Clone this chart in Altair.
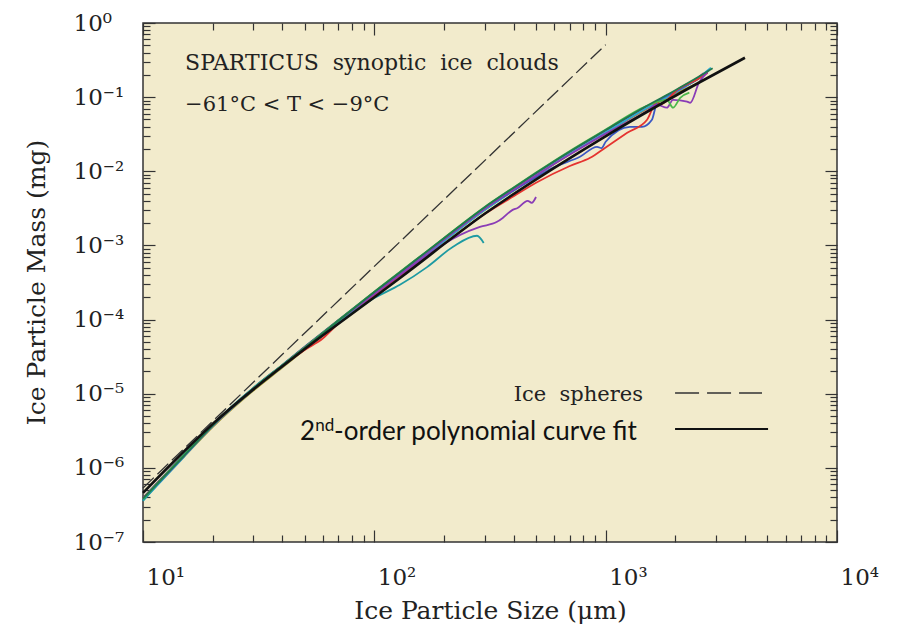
import altair as alt
import pandas as pd

# ---------------------------------------------------------------- ranges
SIZE_DOMAIN = [10, 10000]      # ice particle size, µm
MASS_DOMAIN = [1e-7, 1]        # ice particle mass, mg

# ------------------------------------------------------ reference curves
sphere_size = [10, 1000]
sphere_mass = [5.35e-7, 0.51]

fit_size = [10, 20, 50, 100, 130, 300, 950, 2560, 4000]
fit_mass = [4.6e-7, 3.9e-6, 4.0e-5, 2.0e-4, 3.7e-4, 2.67e-3, 0.027, 0.16, 0.34]

# ------------------------------------- SPARTICUS mass-size curves (flights)
GRID = [10, 15, 20, 30, 40, 50, 70, 100, 150, 200, 300, 400, 500, 700,
        1000, 1500, 2000, 2500]

olive_size = GRID
olive_mass = [3.75e-7, 1.4e-6, 3.55e-6, 1.1e-5, 2.25e-5, 3.95e-5, 9.0e-5, 2.15e-4,
              5.7e-4, 1.14e-3, 3.0e-3, 5.5e-3, 8.7e-3, 0.017, 0.033, 0.069, 0.112, 0.152]

navy_size = GRID + [2700]
navy_mass = [3.95e-7, 1.5e-6, 3.85e-6, 1.2e-5, 2.45e-5, 4.3e-5, 9.9e-5, 2.35e-4,
             6.2e-4, 1.24e-3, 3.2e-3, 5.85e-3, 9.3e-3, 0.0181, 0.0352, 0.0735, 0.118,
             0.175, 0.205]

magenta_size = GRID + [2650]
magenta_mass = [3.8e-7, 1.44e-6, 3.7e-6, 1.15e-5, 2.36e-5, 4.1e-5, 9.4e-5, 2.25e-4,
                5.9e-4, 1.18e-3, 3.05e-3, 5.6e-3, 8.9e-3, 0.0172, 0.0335, 0.071, 0.116,
                0.182, 0.21]

cyan_size = GRID + [2850]
cyan_mass = [3.6e-7, 1.4e-6, 3.65e-6, 1.14e-5, 2.33e-5, 4.05e-5, 9.2e-5, 2.17e-4,
             5.7e-4, 1.14e-3, 3.0e-3, 5.5e-3, 8.8e-3, 0.0172, 0.0335, 0.071, 0.116,
             0.18, 0.25]

blue_size = [10, 15, 20, 30, 40, 50, 70, 100, 150, 200, 300, 400, 500, 600, 774,
             918, 960, 1000, 1274, 1435, 1585, 1667, 2000, 2500, 2800]
blue_mass = [3.7e-7, 1.43e-6, 3.7e-6, 1.16e-5, 2.38e-5, 4.2e-5, 9.7e-5, 2.3e-4,
             6.1e-4, 1.22e-3, 3.15e-3, 5.5e-3, 8.3e-3, 0.0114, 0.0157, 0.0214, 0.0205,
             0.025, 0.0398, 0.0398, 0.0496, 0.084, 0.118, 0.18, 0.23]

red_size = [10, 15, 20, 30, 40, 50, 60, 70, 100, 150, 200, 300, 400, 500, 700, 857,
            1000, 1239, 1510, 1667, 1717, 2040, 2559, 2760]
red_mass = [3.9e-7, 1.46e-6, 3.75e-6, 1.18e-5, 2.38e-5, 3.9e-5, 5.6e-5, 8.9e-5,
            2.15e-4, 5.5e-4, 1.05e-3, 2.65e-3, 4.6e-3, 7.0e-3, 0.0118, 0.0152, 0.021,
            0.033, 0.0496, 0.0867, 0.0789, 0.126, 0.183, 0.214]

purple_size = [10, 15, 20, 30, 40, 50, 70, 100, 150, 200, 300, 400, 500, 700, 1000,
               1500, 1667, 1840, 1955, 2250, 2320, 2530, 2760]
purple_mass = [3.85e-7, 1.46e-6, 3.72e-6, 1.17e-5, 2.4e-5, 4.2e-5, 9.6e-5, 2.27e-4,
               5.95e-4, 1.19e-3, 3.1e-3, 5.65e-3, 8.8e-3, 0.0168, 0.0322, 0.064, 0.079,
               0.072, 0.092, 0.087, 0.084, 0.156, 0.22]

violet_size = [10, 15, 20, 30, 40, 50, 70, 100, 150, 200, 235, 286, 339, 359, 396,
               416, 460, 479, 500]
violet_mass = [3.8e-7, 1.45e-6, 3.7e-6, 1.16e-5, 2.37e-5, 4.1e-5, 9.4e-5, 2.2e-4,
               5.6e-4, 1.05e-3, 1.39e-3, 1.78e-3, 2.08e-3, 2.35e-3, 3.02e-3, 3.2e-3,
               4.0e-3, 3.76e-3, 4.5e-3]

teal_size = [10, 15, 20, 30, 40, 50, 70, 100, 129, 169, 219, 278, 297]
teal_mass = [3.6e-7, 1.48e-6, 3.85e-6, 1.2e-5, 2.42e-5, 4.15e-5, 9.1e-5, 1.95e-4,
             2.94e-4, 5.1e-4, 9.6e-4, 1.35e-3, 1.08e-3]

green_size = [10, 15, 20, 30, 40, 50, 70, 100, 150, 200, 300, 400, 500, 700, 1000,
              1500, 1840, 1955, 2100, 2300]
green_mass = [3.8e-7, 1.47e-6, 3.75e-6, 1.17e-5, 2.4e-5, 4.2e-5, 9.8e-5, 2.38e-4,
              6.3e-4, 1.26e-3, 3.3e-3, 6.05e-3, 9.6e-3, 0.0188, 0.0365, 0.076, 0.092,
              0.072, 0.098, 0.115]

forest_size = GRID + [2900]
forest_mass = [3.85e-7, 1.44e-6, 3.72e-6, 1.16e-5, 2.38e-5, 4.15e-5, 9.7e-5, 2.35e-4,
               6.25e-4, 1.25e-3, 3.28e-3, 6.0e-3, 9.5e-3, 0.0185, 0.036, 0.076, 0.124,
               0.185, 0.245]

SERIES = [
    ("olive", "#a2902c", olive_size, olive_mass),
    ("navy", "#2c3c82", navy_size, navy_mass),
    ("magenta", "#c8388e", magenta_size, magenta_mass),
    ("cyan", "#2aaed0", cyan_size, cyan_mass),
    ("blue", "#3a58c4", blue_size, blue_mass),
    ("red", "#e5332f", red_size, red_mass),
    ("purple", "#8a3cb6", purple_size, purple_mass),
    ("violet", "#8a3cb6", violet_size, violet_mass),
    ("teal", "#1d9aa2", teal_size, teal_mass),
    ("green", "#4cb84a", green_size, green_mass),
    ("forest", "#1f7a4c", forest_size, forest_mass),
]

# ----------------------------------------------------------------- text
SERIF = "DejaVu Serif"
SANS = "Lato"
INK = "#222222"
NB = "\u00a0 "   # slightly wider word gap

notes = pd.DataFrame({
    "size": [15.2, 15.2],
    "mass": [0.289, 0.0783],
    "text": [f"SPARTICUS{NB}synoptic{NB}ice{NB}clouds",
             "\u221261\u00b0C < T < \u22129\u00b0C"],
    "fs": [22, 21],
})

# ------------------------------------------------------------- tables
curves = pd.concat(
    [pd.DataFrame({"size": s, "mass": m, "flight": name, "order": range(len(s))})
     for name, _, s, m in SERIES],
    ignore_index=True,
)
sphere = pd.DataFrame({"size": sphere_size, "mass": sphere_mass})
fit = pd.DataFrame({"size": fit_size, "mass": fit_mass})

W, H = 694, 519
xscale = alt.Scale(type="log", domain=SIZE_DOMAIN, nice=False)
yscale = alt.Scale(type="log", domain=MASS_DOMAIN, nice=False)

MAJOR = "abs(log(datum.value)/LN10 - round(log(datum.value)/LN10)) < 0.01"
x_ticks = [k * 10 ** e for e in range(1, 4) for k in range(1, 10)] + [10000]
y_ticks = [k * 10.0 ** e for e in range(-7, 0) for k in range(1, 10)] + [1]


def tick_axis(orient, offset, values):
    return alt.Axis(
        orient=orient, offset=offset, values=values, labels=False, domain=False,
        grid=False, title="", ticks=True, tickColor="#333333", tickWidth=1.2,
        tickSize={"condition": {"test": MAJOR, "value": 12}, "value": 7},
    )


x_label_axis = alt.Axis(
    orient="bottom", values=[10, 100, 1000, 10000], ticks=False, tickSize=0,
    domain=False, grid=False,
    labelExpr="'10' + ['\u2070','\u00b9','\u00b2','\u00b3','\u2074'][round(log(datum.value)/LN10)]",
    labelFont=SERIF, labelFontSize=23, labelColor=INK, labelAlign="left",
    labelBaseline="middle", labelPadding=35, labelOffset=3, labelFlush=False,
    labelOverlap=False, labelBound=False,
    title="Ice Particle Size (\u03bcm)", titleFont=SERIF, titleFontSize=25,
    titleFontWeight="normal", titleColor=INK, titleY=68, titleBaseline="middle",
)
y_label_axis = alt.Axis(
    orient="left", values=[10.0 ** e for e in range(-7, 1)], ticks=False, tickSize=0,
    domain=False, grid=False,
    labelExpr="'10' + ['\u207b\u2077','\u207b\u2076','\u207b\u2075','\u207b\u2074',"
              "'\u207b\u00b3','\u207b\u00b2','\u207b\u00b9','\u2070']"
              "[round(log(datum.value)/LN10) + 7]",
    labelFont=SERIF, labelFontSize=23, labelColor=INK, labelAlign="left",
    labelBaseline="middle", labelPadding=70, labelFlush=False, labelOverlap=False,
    labelBound=False,
    title="Ice Particle Mass (mg)", titleFont=SERIF, titleFontSize=25,
    titleFontWeight="normal", titleColor=INK, titleAngle=270, titleX=-107,
    titleY=259, titleAlign="center", titleBaseline="middle",
)

# flight curves carry the labelled axes
flights = alt.Chart(curves).mark_line(strokeWidth=1.8, interpolate="monotone").encode(
    x=alt.X("size:Q", scale=xscale, axis=x_label_axis),
    y=alt.Y("mass:Q", scale=yscale, axis=y_label_axis),
    color=alt.Color("flight:N", legend=None,
                    scale=alt.Scale(domain=[s[0] for s in SERIES],
                                    range=[s[1] for s in SERIES])),
    detail="flight:N",
    order="order:Q",
)

# polynomial fit: inward ticks along the bottom and left edges
fit_line = alt.Chart(fit).mark_line(color="#111111", strokeWidth=2.6,
                                    interpolate="monotone").encode(
    x=alt.X("size:Q", scale=xscale, axis=tick_axis("top", -H, x_ticks)),
    y=alt.Y("mass:Q", scale=yscale, axis=tick_axis("right", -W, y_ticks)),
)

# ice spheres: inward ticks along the top and right edges
sphere_line = alt.Chart(sphere).mark_line(color="#333333", strokeWidth=1.3,
                                          strokeDash=[15, 5]).encode(
    x=alt.X("size:Q", scale=xscale, axis=tick_axis("bottom", -H, x_ticks)),
    y=alt.Y("mass:Q", scale=yscale, axis=tick_axis("left", -W, y_ticks)),
)

note_text = alt.Chart(notes).mark_text(
    font=SERIF, color=INK, align="left", baseline="middle"
).encode(
    x=alt.X("size:Q", scale=xscale, axis=None),
    y=alt.Y("mass:Q", scale=yscale, axis=None),
    text="text:N",
    size=alt.Size("fs:Q", scale=None, legend=None),
)

# ------------------------------------------------------------ key
key_sphere_text = alt.Chart(pd.DataFrame({"size": [1449], "mass": [9.6e-6],
                                          "text": [f"Ice{NB}spheres"]})).mark_text(
    font=SERIF, fontSize=21, color=INK, align="right", baseline="middle"
).encode(x=alt.X("size:Q", scale=xscale, axis=None),
         y=alt.Y("mass:Q", scale=yscale, axis=None), text="text:N")

key_sphere_line = alt.Chart(pd.DataFrame({"size": [1995, 4742],
                                          "mass": [1.02e-5, 1.02e-5]})).mark_line(
    color="#333333", strokeWidth=1.5, strokeDash=[24, 8]
).encode(x=alt.X("size:Q", scale=xscale, axis=None),
         y=alt.Y("mass:Q", scale=yscale, axis=None))

key_fit_text = alt.Chart(pd.DataFrame({
    "size": [47.7, 55.5, 67.0],
    "mass": [3.05e-6, 3.67e-6, 3.05e-6],
    "text": ["2", "nd", "-order polynomial curve fit"],
    "fs": [26, 17, 26],
})).mark_text(font=SANS, color="#111111", align="left", baseline="middle").encode(
    x=alt.X("size:Q", scale=xscale, axis=None),
    y=alt.Y("mass:Q", scale=yscale, axis=None),
    text="text:N",
    size=alt.Size("fs:Q", scale=None, legend=None),
)

key_fit_line = alt.Chart(pd.DataFrame({"size": [1995, 5035],
                                       "mass": [3.34e-6, 3.34e-6]})).mark_line(
    color="#111111", strokeWidth=2
).encode(x=alt.X("size:Q", scale=xscale, axis=None),
         y=alt.Y("mass:Q", scale=yscale, axis=None))

chart = alt.layer(
    flights, fit_line, sphere_line, note_text,
    key_sphere_text, key_sphere_line, key_fit_text, key_fit_line,
).resolve_axis(x="independent", y="independent").properties(
    width=W, height=H,
    autosize=alt.AutoSizeParams(type="none"),
    padding={"left": 143, "top": 23, "right": 62, "bottom": 87},
    background="white",
).configure_view(
    fill="#f2ebcc", stroke="#333333", strokeWidth=1.5,
)

chart.save("out.html", embed_options={"renderer": "svg", "actions": False})
